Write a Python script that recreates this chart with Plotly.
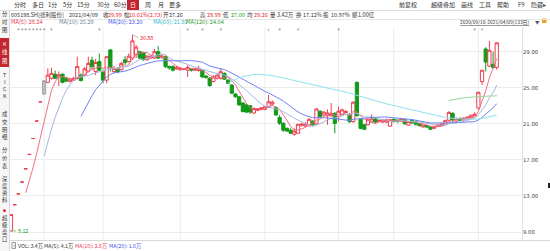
import plotly.graph_objects as go
import pandas as pd

# ---------------- data ----------------
opens = [9.12, 12.03, 13.23, 14.55, 16.01, 17.61, 19.37, 21.31, 23.44, 24.30,
         25.60, 26.05, 26.50, 26.20, 26.50, 26.10, 25.70, 25.85, 26.05, 26.40,
         26.40, 26.85, 28.05, 26.80, 27.90, 26.80, 25.85, 29.20, 26.80, 27.00,
         27.00, 28.10, 27.90, 28.30, 28.70, 29.00, 28.90, 28.10, 28.30, 28.30,
         29.00, 28.40, 28.45, 27.35, 27.35, 27.10, 27.00, 27.05, 26.95, 27.10,
         26.95, 26.90, 26.95, 26.30, 26.05, 25.70, 26.05, 26.05, 26.60, 25.85,
         25.30, 24.30, 24.00, 23.30, 23.10, 23.00, 22.20, 22.50, 22.65, 22.60,
         22.90, 23.20, 22.80, 21.70, 21.06, 20.50, 20.30, 19.83, 19.95, 20.85,
         20.75, 20.80, 21.30, 21.00, 22.40, 21.98, 21.90, 21.90, 22.16, 21.80,
         22.05, 22.25, 22.05, 21.24, 25.60, 21.50, 20.90, 20.90, 21.20, 21.55,
         21.25, 21.20, 21.20, 20.75, 21.50, 21.40, 21.30, 21.45, 20.85, 21.40,
         21.25, 21.05, 20.65, 20.80, 20.65, 20.50, 20.70, 20.80, 21.00, 21.40,
         22.16, 21.30, 21.60, 21.45, 21.55, 21.70, 21.90, 22.75, 25.68, 29.30,
         27.40, 27.60, 27.26]
highs = [10.94, 12.03, 13.23, 14.55, 16.01, 17.61, 19.37, 21.31, 23.44, 25.78,
         27.15, 27.20, 26.90, 26.80, 26.60, 26.20, 26.10, 26.20, 28.45, 26.60,
         27.30, 28.45, 28.45, 28.20, 28.80, 27.00, 28.50, 29.30, 27.40, 27.20,
         27.90, 28.50, 28.80, 30.88, 29.75, 29.10, 29.00, 28.60, 28.70, 29.30,
         29.60, 28.70, 28.60, 27.50, 27.50, 27.40, 27.30, 27.20, 27.50, 27.20,
         27.20, 27.45, 27.05, 26.40, 26.20, 26.40, 26.50, 27.15, 26.70, 25.95,
         25.40, 24.40, 24.10, 23.40, 23.20, 23.10, 22.80, 22.75, 22.85, 23.00,
         24.20, 23.60, 22.90, 21.98, 21.20, 20.60, 20.50, 20.50, 21.00, 21.10,
         21.20, 21.60, 21.40, 22.70, 22.50, 22.40, 22.60, 23.30, 22.30, 22.90,
         22.70, 22.50, 22.20, 23.50, 25.70, 21.60, 21.00, 21.60, 22.05, 21.70,
         21.50, 21.50, 21.60, 21.55, 21.60, 21.50, 21.60, 21.50, 21.30, 21.50,
         21.40, 21.10, 20.95, 20.90, 20.70, 20.80, 20.95, 21.10, 21.45, 22.40,
         22.30, 21.70, 21.70, 21.70, 21.80, 22.00, 22.30, 24.50, 26.95, 29.50,
         30.20, 29.00, 29.99]
lows = [9.12, 12.03, 13.23, 14.55, 16.01, 17.61, 19.37, 21.31, 23.44, 24.19,
        25.50, 25.90, 25.95, 25.20, 25.50, 25.60, 25.60, 25.80, 25.90, 25.70,
        26.30, 26.70, 27.00, 26.40, 26.80, 25.50, 25.50, 26.80, 26.60, 26.60,
        26.90, 27.50, 27.80, 28.10, 28.30, 28.20, 28.00, 28.00, 28.20, 28.20,
        28.20, 28.20, 27.20, 27.00, 26.80, 27.00, 26.90, 26.95, 26.20, 26.80,
        26.90, 26.80, 26.10, 26.00, 25.10, 25.60, 25.90, 25.90, 25.90, 25.40,
        24.30, 23.90, 23.00, 22.30, 22.20, 22.10, 22.10, 22.40, 22.55, 22.50,
        22.75, 23.10, 21.90, 20.87, 20.10, 20.10, 19.85, 19.70, 19.90, 20.70,
        20.70, 20.70, 20.80, 20.90, 21.70, 21.90, 20.90, 21.80, 19.95, 21.24,
        21.90, 22.20, 21.10, 21.10, 21.80, 20.40, 20.30, 20.80, 21.10, 21.10,
        21.20, 21.10, 21.10, 20.65, 21.20, 21.10, 21.25, 20.90, 20.80, 21.00,
        20.80, 20.70, 20.60, 20.55, 20.30, 20.45, 20.65, 20.75, 20.95, 21.30,
        21.17, 21.20, 21.30, 21.35, 21.45, 21.60, 21.85, 22.60, 25.30, 26.80,
        27.30, 27.10, 27.00]
closes = [10.94, 12.03, 13.23, 14.55, 16.01, 17.61, 19.37, 21.31, 23.44, 25.78,
          26.40, 26.60, 26.05, 26.45, 25.60, 25.75, 25.95, 26.05, 27.35, 25.80,
          27.10, 27.70, 27.35, 27.80, 26.95, 25.85, 28.45, 27.15, 27.15, 26.80,
          27.70, 27.80, 28.50, 30.20, 29.50, 28.30, 28.10, 28.50, 28.50, 29.00,
          28.30, 28.50, 27.35, 27.20, 26.95, 27.25, 27.15, 27.10, 27.25, 26.95,
          27.05, 27.15, 26.20, 26.15, 25.25, 26.20, 26.40, 26.78, 25.95, 25.50,
          24.40, 24.00, 23.10, 22.35, 22.30, 22.30, 22.70, 22.65, 22.75, 22.90,
          23.45, 23.40, 21.98, 21.06, 20.30, 20.20, 19.95, 20.20, 20.95, 20.95,
          20.95, 21.50, 20.90, 22.65, 21.80, 22.30, 22.20, 22.16, 21.05, 22.40,
          22.55, 22.35, 21.24, 23.40, 21.90, 20.50, 20.40, 21.50, 21.55, 21.20,
          21.35, 21.40, 21.45, 21.45, 21.25, 21.25, 21.50, 21.00, 21.25, 21.10,
          20.95, 20.80, 20.87, 20.65, 20.40, 20.70, 20.87, 21.00, 21.35, 22.27,
          21.42, 21.60, 21.40, 21.60, 21.75, 21.95, 22.05, 24.50, 26.95, 27.85,
          29.15, 27.26, 29.99]

MONTH_START_IDX = [9, 25, 46, 69, 89, 104, 127]      # first trading day of each month
NEWS_MARK_IDX = [2, 3, 4, 5, 6, 7, 8, 9, 11, 24, 48, 52, 57, 73, 78, 89, 126, 128]
ALERT_MARK_IDX = [70]
GRAY_IDX = 9
MA_PERIODS = [5, 10, 20, 60, 120]
Y_TICKS = [9, 13, 17, 21, 25, 29]
HIGH_LABEL = ("30.88", 33, 30.88)
LOW_LABEL = ("9.12", 0, 9.12)

# ---------------- styles ----------------
W, H = 550, 251
PL, PR, PT, PB = 10, 522, 27, 240
RED = "#ee3d4f"
GREEN = "#139a1b"
MA_COLORS = {5: "#f2707f", 10: "#a3b8dc", 20: "#7082f2", 60: "#8be2ee", 120: "#96d596"}
CJK = "Noto Sans CJK SC, Noto Sans, sans-serif"
TXT = "#333333"

n = len(closes)
idx = list(range(n))
x_step = 3.68
x0_px = 11.0
xr = [(PL - x0_px) / x_step, (PR - x0_px) / x_step]
v_per_px = 1 / 9.017
yr = [29 - (PB - 51.7) * v_per_px, 29 + (51.7 - PT) * v_per_px]

fig = go.Figure()

s = pd.Series(closes)
for p in MA_PERIODS:
    ma = s.rolling(p).mean()
    fig.add_trace(go.Scatter(x=idx, y=ma, mode="lines",
                             line=dict(color=MA_COLORS[p], width=1),
                             hoverinfo="skip", showlegend=False))

main = [i for i in idx if i != GRAY_IDX]
fig.add_trace(go.Candlestick(
    x=main, open=[opens[i] for i in main], high=[highs[i] for i in main],
    low=[lows[i] for i in main], close=[closes[i] for i in main],
    increasing=dict(line=dict(color=RED, width=1), fillcolor="white"),
    decreasing=dict(line=dict(color=GREEN, width=1), fillcolor=GREEN),
    whiskerwidth=0, showlegend=False, hoverinfo="skip"))
fig.add_trace(go.Candlestick(
    x=[GRAY_IDX], open=[opens[GRAY_IDX]], high=[highs[GRAY_IDX]],
    low=[lows[GRAY_IDX]], close=[closes[GRAY_IDX]],
    increasing=dict(line=dict(color="#a8a8a8", width=1), fillcolor="#bdbdbd"),
    decreasing=dict(line=dict(color="#a8a8a8", width=1), fillcolor="#bdbdbd"),
    whiskerwidth=0, showlegend=False, hoverinfo="skip"))

mark_y = 29 + (51.7 - 30.5) * v_per_px
fig.add_trace(go.Scatter(x=NEWS_MARK_IDX, y=[mark_y] * len(NEWS_MARK_IDX), mode="text",
                         text=["*"] * len(NEWS_MARK_IDX),
                         textfont=dict(size=5, color="#777777"),
                         hoverinfo="skip", showlegend=False))
fig.add_trace(go.Scatter(x=ALERT_MARK_IDX, y=[mark_y] * len(ALERT_MARK_IDX), mode="text",
                         text=["↑"] * len(ALERT_MARK_IDX),
                         textfont=dict(size=5, color="#e02020"),
                         hoverinfo="skip", showlegend=False))

shapes = []
for m in MONTH_START_IDX:
    shapes.append(dict(type="line", xref="x", yref="paper", x0=m, x1=m,
                       y0=1 - PB / H, y1=1 - PT / H,
                       line=dict(color="#ececec", width=1), layer="below"))


def px(xp):
    return xp / W


def py(yp):
    return 1 - yp / H


def rect(x0, y0, x1, y1, fill, line=None):
    shapes.append(dict(type="rect", xref="paper", yref="paper",
                       x0=px(x0), x1=px(x1), y0=py(y1), y1=py(y0),
                       fillcolor=fill, line=dict(width=1 if line else 0, color=line or fill),
                       layer="below"))


def hline(y, x0, x1, color="#dddddd"):
    shapes.append(dict(type="line", xref="paper", yref="paper",
                       x0=px(x0), x1=px(x1), y0=py(y), y1=py(y),
                       line=dict(color=color, width=1)))


def vline(x, y0, y1, color="#dddddd"):
    shapes.append(dict(type="line", xref="paper", yref="paper",
                       x0=px(x), x1=px(x), y0=py(y0), y1=py(y1),
                       line=dict(color=color, width=1)))


# frame / separators
rect(0, 10, 9.5, 251, "#f6f6f6")
vline(9.5, 10, 251, "#d8d8d8")
hline(10.5, 0, 550, "#dcdcdc")
hline(19.5, 10, 550, "#e6e6e6")
hline(PB + 0.5, 10, 550, "#d8d8d8")
vline(PR + 0.5, PT, PB, "#e0e0e0")
rect(0, 38, 9.5, 67, "#c4262e")
rect(127, 0, 139, 10, "#c4262e")
rect(12, 242.5, 15.5, 248.5, "white", "#999999")
rect(542, 18.5, 546.5, 23, "#f0a020")
rect(548, 183, 550, 188, "#222222")

ann = []


def text(xp, yp, t, color=TXT, size=6.5, anchor="left"):
    ann.append(dict(xref="paper", yref="paper", x=px(xp), y=py(yp), text=t,
                    showarrow=False, xanchor=anchor, yanchor="middle",
                    font=dict(family=CJK, size=size, color=color), borderpad=0))


# toolbar
for t, xp in [("分时", 13), ("多日", 31), ("1分", 47), ("5分", 62), ("15分", 76),
              ("30分", 96), ("60分", 113), ("周", 144), ("月", 157), ("更多", 168),
              ("前复权", 398), ("超级叠加", 430), ("画线", 460), ("工具", 478),
              ("帮助", 496), ("F9", 517), ("隐藏▸", 530)]:
    text(xp, 5, t, size=6)
text(133, 5, "日", color="white", size=6, anchor="center")

# quote row
RED_T, GRN_T = "#e8202a", "#119a11"
for t, xp, c in [("605198.SH[德利股份]", 10, TXT), ("2021/04/09", 68, TXT),
                 ("收", 102, TXT), ("29.99", 107, RED_T), ("幅", 123, TXT),
                 ("10.01%(2.73)", 128, RED_T), ("开", 162, TXT), ("27.26", 168, TXT),
                 ("高", 199, TXT), ("29.99", 206, RED_T), ("低", 222, TXT),
                 ("27.00", 230, GRN_T), ("均", 246, TXT), ("29.26", 253, RED_T),
                 ("量", 269, TXT), ("3.42万", 276, TXT), ("换", 295, TXT),
                 ("17.12%", 302, TXT), ("振", 322, TXT), ("10.97%", 330, TXT),
                 ("额", 351, TXT), ("1.00亿", 357, TXT)]:
    text(xp, 15, t, color=c, size=5.5)

# MA row
for t, xp, c in [("MA(5): 28.24", 10, "#e8384f"), ("MA(10): 25.29", 58, "#6d7f9c"),
                 ("MA(20): 23.20", 107, "#3f52ee"), ("MA(60): 21.91", 152, "#2cb8d0"),
                 ("MA(120): 24.04", 185, "#2c9a2c")]:
    text(xp, 22.3, t, color=c, size=5.6)
text(459, 22, "<u>2020/09/18-2021/04/09(133日)</u>", size=4.9)
text(534, 22, "▼", size=4.5, color="#555555")

# volume row
for t, xp, c in [("VOL: 3.4万", 17, TXT), ("MA(5): 4.1万", 43, TXT),
                 ("MA(10): 2.6万", 74, "#e8384f"), ("MA(20): 1.6万", 108, "#3f52ee")]:
    text(xp, 245.5, t, color=c, size=5.3)
text(13.8, 245.5, "?", size=4.5, color="#666666", anchor="center")

# sidebar tabs (one character per annotation)
side = [("分", 14, TXT), ("时", 22, TXT), ("图", 30, TXT),
        ("K", 44, "white"), ("线", 52, "white"), ("图", 61, "white"),
        ("T", 75, TXT), ("I", 82, TXT), ("C", 89, TXT), ("K", 96, TXT),
        ("成", 114, TXT), ("交", 122, TXT), ("明", 130, TXT), ("细", 137, TXT),
        ("分", 150, TXT), ("价", 158, TXT), ("表", 166, TXT),
        ("深", 179, TXT), ("度", 186, TXT), ("资", 193, TXT), ("料", 200, TXT),
        ("超", 218, TXT), ("级", 225, TXT), ("盘", 232, TXT), ("口", 239, TXT)]
for t, yc, c in side:
    text(4.7, yc, t, color=c, size=5.3, anchor="center")
text(4.7, 210.5, "●", color="#e02020", size=3, anchor="center")

# high / low labels
ann.append(dict(x=HIGH_LABEL[1], y=HIGH_LABEL[2], xref="x", yref="y", text=HIGH_LABEL[0],
                showarrow=True, arrowhead=0, arrowwidth=0.7, arrowcolor="#7ea6cc",
                ax=6, ay=3, xanchor="left", yanchor="middle",
                font=dict(family=CJK, size=5.3, color=RED_T)))
ann.append(dict(x=LOW_LABEL[1], y=LOW_LABEL[2], xref="x", yref="y", text=LOW_LABEL[0],
                showarrow=True, arrowhead=0, arrowwidth=0.7, arrowcolor="#60b060",
                ax=5, ay=0, xanchor="left", yanchor="middle",
                font=dict(family=CJK, size=5.3, color=GRN_T)))

fig.update_layout(
    width=W, height=H, margin=dict(l=0, r=0, t=0, b=0),
    paper_bgcolor="white", plot_bgcolor="white", template="none",
    showlegend=False, boxgap=0.12, boxgroupgap=0,
    xaxis=dict(domain=[px(PL), px(PR)], range=xr, showgrid=False, zeroline=False,
               showticklabels=False, ticks="", rangeslider=dict(visible=False),
               fixedrange=True, automargin=False, showline=False),
    yaxis=dict(domain=[py(PB), py(PT)], range=yr, side="right",
               tickvals=Y_TICKS, ticktext=[f"{v:.2f}" for v in Y_TICKS],
               showgrid=True, gridcolor="#ececec", gridwidth=1, zeroline=False,
               ticks="", tickfont=dict(family="DejaVu Sans, sans-serif", size=5.3, color="#444444"),
               automargin=False, showline=False, fixedrange=True),
    shapes=shapes, annotations=ann,
)

fig.write_html("out.html")
